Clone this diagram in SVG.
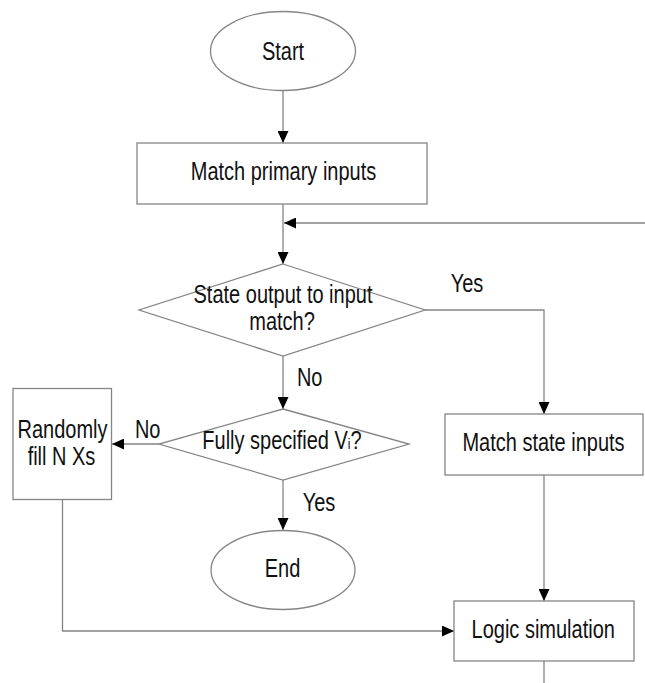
<svg xmlns="http://www.w3.org/2000/svg" width="645" height="683" viewBox="0 0 645 683">
  <defs>
    <marker id="arrow" markerUnits="userSpaceOnUse" markerWidth="12" markerHeight="11" refX="12" refY="5.5" orient="auto">
      <path d="M0,0 L12,5.5 L0,11 z" fill="#000"/>
    </marker>
    <style>
      .shape { fill: #fff; stroke: #858585; stroke-width: 1.3; }
      .conn { fill: none; stroke: #858585; stroke-width: 1.3; }
      .arr { marker-end: url(#arrow); }
      text { font-family: "Liberation Sans", Arial, sans-serif; font-size: 25px; fill: #111; text-anchor: middle; }
    </style>
  </defs>
  <rect width="645" height="683" fill="#fff"/>

  <!-- connectors; labels are narrowed horizontally to a condensed face -->
  <g id="connectors">
    <line class="conn arr" x1="283" y1="91" x2="283" y2="143"/>
    <line class="conn arr" x1="283" y1="204" x2="283" y2="264"/>
    <line class="conn arr" x1="645" y1="223" x2="284" y2="223"/>
    <polyline class="conn arr" points="425,310 544,310 544,414"/>
    <line class="conn arr" x1="283" y1="356" x2="283" y2="409"/>
    <line class="conn arr" x1="159" y1="444" x2="112" y2="444"/>
    <line class="conn arr" x1="283" y1="480" x2="283" y2="530"/>
    <line class="conn arr" x1="544" y1="475" x2="544" y2="601"/>
    <polyline class="conn arr" points="62.5,499.5 62.5,631 454,631"/>
    <line class="conn" x1="544" y1="661" x2="544" y2="683"/>
    <text transform="translate(467 292) scale(0.8 1)">Yes</text>
    <text transform="translate(309.7 386) scale(0.8 1)">No</text>
    <text transform="translate(147.7 438) scale(0.8 1)">No</text>
    <text transform="translate(319 511) scale(0.8 1)">Yes</text>
  </g>

  <g id="start">
    <ellipse class="shape" cx="283" cy="51" rx="72.5" ry="39.5"/>
    <text transform="translate(283 60) scale(0.8 1)">Start</text>
  </g>

  <g id="match-primary">
    <rect class="shape" x="137" y="143" width="290" height="61"/>
    <text transform="translate(283.5 180) scale(0.8 1)">Match primary inputs</text>
  </g>

  <g id="state-match">
    <polygon class="shape" points="283,264 425,310 283,356 139,310"/>
    <text transform="translate(283 303) scale(0.8 1)">State output to input</text>
    <text transform="translate(282 330) scale(0.8 1)">match?</text>
  </g>

  <g id="fully-specified">
    <polygon class="shape" points="283,409 409,444 283,480 159,444"/>
    <text transform="translate(282 449) scale(0.8 1)">Fully specified V<tspan font-size="15">i</tspan>?</text>
  </g>

  <g id="random-fill">
    <rect class="shape" x="13" y="388.5" width="98.5" height="111"/>
    <text transform="translate(62.5 438) scale(0.8 1)">Randomly</text>
    <text transform="translate(61.5 465) scale(0.8 1)">fill N Xs</text>
  </g>

  <g id="end">
    <ellipse class="shape" cx="283" cy="570" rx="72" ry="39.5"/>
    <text transform="translate(282.5 577) scale(0.8 1)">End</text>
  </g>

  <g id="match-state">
    <rect class="shape" x="445" y="414" width="198" height="61"/>
    <text transform="translate(543.5 451) scale(0.8 1)">Match state inputs</text>
  </g>

  <g id="logic-sim">
    <rect class="shape" x="454" y="601" width="180" height="60"/>
    <text transform="translate(543.2 637.5) scale(0.8 1)">Logic simulation</text>
  </g>
</svg>
